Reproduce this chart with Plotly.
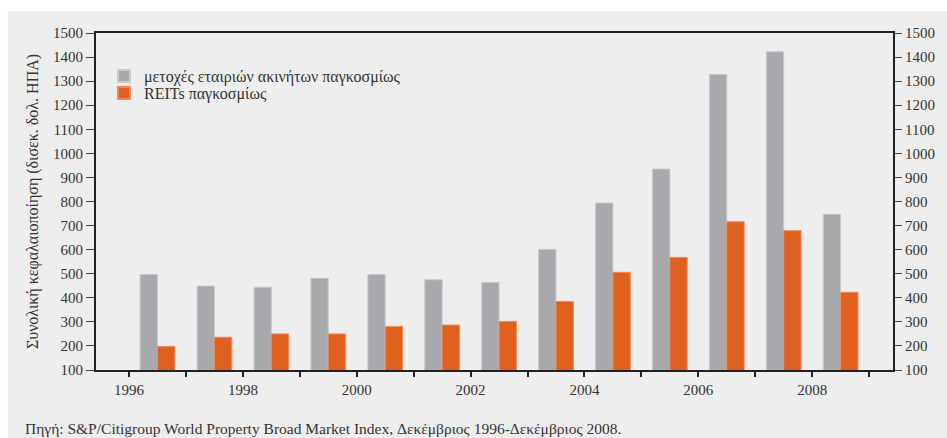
import plotly.graph_objects as go

years = list(range(1996, 2009))
stocks = [497, 449, 444, 481, 497, 475, 464, 601, 794, 935, 1328, 1422, 747]
reits = [198, 236, 250, 250, 281, 287, 302, 385, 506, 568, 716, 679, 423]
ytick_vals = list(range(100, 1600, 100))
xtick_vals = list(range(1996, 2010))
xtick_text = [str(y) if y % 2 == 0 else "" for y in xtick_vals]

name_stocks = "μετοχές εταιριών ακινήτων παγκοσμίως"
name_reits = "REITs παγκοσμίως"
ytitle = "Συνολική κεφαλαιοποίηση (δισεκ. δολ. ΗΠΑ)"
source = "Πηγή: S&P/Citigroup World Property Broad Market Index, Δεκέμβριος 1996-Δεκέμβριος 2008."

FONT = "Liberation Serif"
TXT = "#333333"

xpos = [y + 0.5 for y in years]

L, R, T, B = 96, 47, 33, 68
W, H = 947, 438
pw, ph = W - L - R, H - T - B

fig = go.Figure()
fig.add_trace(go.Bar(x=xpos, y=stocks, name=name_stocks, legend="legend",
                     marker=dict(color="#a8a9ad", line=dict(color="#c9cacc", width=1))))
fig.add_trace(go.Bar(x=xpos, y=reits, name=name_reits, legend="legend2",
                     marker=dict(color="#e06020", line=dict(color="#f08a5a", width=1))))
fig.add_trace(go.Scatter(x=[None], y=[None], yaxis="y2", showlegend=False, hoverinfo="skip"))

leg_common = dict(xanchor="left", yanchor="middle", bgcolor="rgba(0,0,0,0)",
                  font=dict(size=16, family=FONT, color=TXT), itemsizing="constant")

fig.update_layout(
    width=W, height=H,
    margin=dict(l=L, r=R, t=T, b=B),
    paper_bgcolor="white",
    plot_bgcolor="#eeeeee",
    barmode="group", bargap=0.39, bargroupgap=0,
    font=dict(family=FONT, color=TXT, size=15),
    showlegend=True,
    legend=dict(x=0.01, y=(H - B - 76) / ph, **leg_common),
    legend2=dict(x=0.01, y=(H - B - 93) / ph, **leg_common),
    xaxis=dict(range=[1995.42, 2009.42], tickmode="array", tickvals=xtick_vals,
               ticktext=xtick_text, ticks="outside", ticklen=5, tickwidth=1.5,
               tickcolor="#222", showline=True, linecolor="#222", linewidth=2,
               mirror=True, showgrid=False, zeroline=False,
               tickfont=dict(size=15, family=FONT, color=TXT)),
    yaxis=dict(range=[100, 1500], tickmode="array", tickvals=ytick_vals,
               ticks="outside", ticklen=8, tickwidth=1, tickcolor="#444",
               showline=True, linecolor="#222", linewidth=2, mirror=True,
               showgrid=False, zeroline=False,
               tickfont=dict(size=15, family=FONT, color=TXT),
               title=dict(text=ytitle, font=dict(size=16, family=FONT, color=TXT), standoff=10)),
    yaxis2=dict(range=[100, 1500], overlaying="y", side="right", tickmode="array",
                tickvals=ytick_vals, ticks="outside", ticklen=8, tickwidth=1,
                tickcolor="#444", showline=False, showgrid=False, zeroline=False,
                tickfont=dict(size=15, family=FONT, color=TXT)),
)

# gray panel background behind everything
fig.add_shape(type="rect", xref="paper", yref="paper",
              x0=(7 - L) / pw, x1=(W - L) / pw + 0.01,
              y0=(H - B - H) / ph - 0.01, y1=(H - B - 11) / ph,
              fillcolor="#eeeeee", line=dict(width=0), layer="below")

fig.add_annotation(text=source, xref="paper", yref="paper",
                   x=(22 - L) / pw, y=(H - B - 428) / ph, xanchor="left", yanchor="middle",
                   showarrow=False, font=dict(size=15.5, family=FONT, color=TXT))

fig.write_html("out.html")
